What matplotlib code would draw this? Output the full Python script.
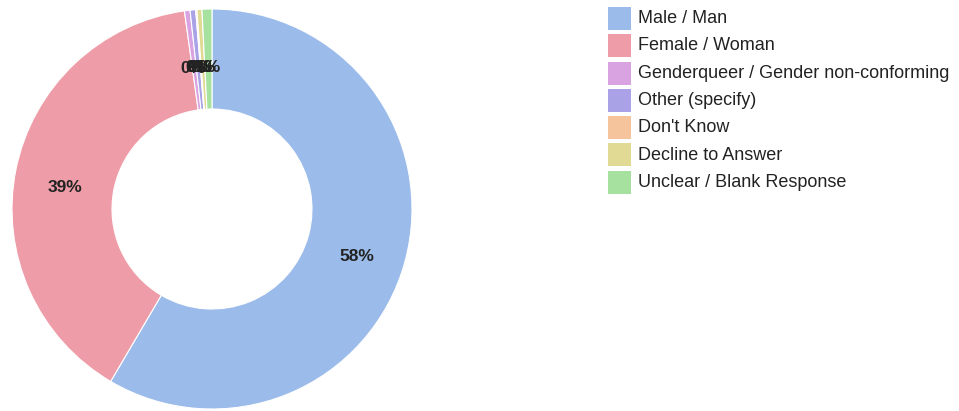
import matplotlib
matplotlib.use("Agg")
import matplotlib.pyplot as plt
import matplotlib.transforms as mtransforms
from matplotlib.patches import Rectangle

# ── Dados ─────────────────────────────────────────────────────────────────────
categories = [
    "Male / Man",
    "Female / Woman",
    "Genderqueer / Gender non-conforming",
    "Other (specify)",
    "Don't Know",
    "Decline to Answer",
    "Unclear / Blank Response",
]
shares = [58.4, 39.3, 0.45, 0.45, 0.1, 0.4, 0.8]

colors = ["#9BBBEA", "#EE9DA8", "#D9A3E1", "#A9A2E6", "#F5C49C", "#E0DA95", "#A7E19F"]
TEXT = "#222222"

plt.rcParams["font.family"] = ["Liberation Sans", "DejaVu Sans"]

fig = plt.figure(figsize=(9.59, 4.11), dpi=100, facecolor="white")
ax = fig.add_axes([12 / 959, 2 / 411, 400 / 959, 400 / 411])

wedges, texts, autotexts = ax.pie(
    shares, colors=colors, startangle=90, counterclock=False,
    radius=1.0, autopct=lambda p: f"{p:.0f}%", pctdistance=0.75,
    wedgeprops=dict(width=0.5, edgecolor="white", linewidth=0.8),
    textprops=dict(color=TEXT, fontsize=12.5, fontweight="bold"),
)
# rótulos um pouco abaixo do ponto médio, como no original
shift = mtransforms.ScaledTranslation(0, -8 / 100, fig.dpi_scale_trans)
for t in autotexts:
    t.set_transform(t.get_transform() + shift)

ax.set_xlim(-1, 1)
ax.set_ylim(-1, 1)
ax.set_aspect("equal")
ax.axis("off")

# Legenda manual
x0, y0, step = 608 / 959, 1 - 18.5 / 411, 27.3 / 411
sq_w, sq_h = 23 / 959, 23 / 411
for i, (lab, c) in enumerate(zip(categories, colors)):
    yc = y0 - i * step
    fig.patches.append(Rectangle((x0, yc - sq_h / 2), sq_w, sq_h,
                                 transform=fig.transFigure, facecolor=c,
                                 edgecolor="none"))
    fig.text(638 / 959, yc, lab, color=TEXT, fontsize=13, va="center", ha="left")

fig.savefig("out.png", dpi=100, facecolor="white")
